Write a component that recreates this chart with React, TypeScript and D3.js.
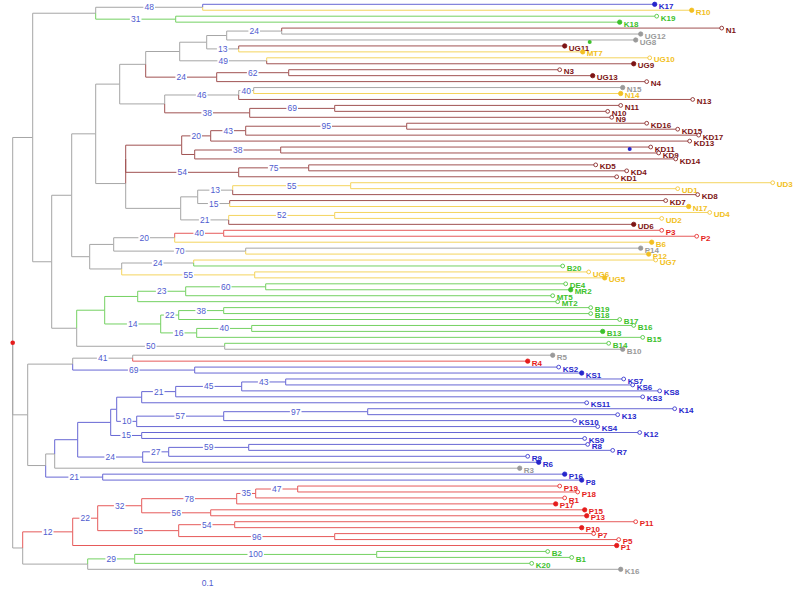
import React, { useMemo } from "react";
import * as d3 from "d3";

const WIDTH = 793;
const HEIGHT = 596;

// ---- Tree data (Newick pieces). Internal labels: "support#edgeColor"; lengths in substitutions/site ----
const cladeK = "((K17:0.452,R10:0.489)48#g:0.107,(K19:0.481,K18:0.444)31#n:0.080)#g";
const cladeUG = "((((N1:0.440,UG12:0.359)24#g:0.055,UG8:0.409)#g:0.020,(UG11:0.326,MT7:0.344)13#g:0.032)#g:0.027,(UG10:0.383,UG9:0.367)49#g:0.087)#g";
const cladeN3 = "((N3:0.271,UG13:0.304)62#w:0.072,N4:0.430)24#w";
const cladeN = "(((N15:0.369,N14:0.367)40#g:0.015,N13:0.454)46#g:0.074,((N11:0.286,N10:0.273)69#w:0.085,N9:0.362)38#w:0.085)#g";
const cladeKDa = "((((KD16:0.240,KD15:0.271)95#w:0.161,KD17:0.453)43#w:0.035,KD13:0.479)20#w:0.029,((KD11:0.370,KD9:0.378)38#w:0.086,KD14:0.481)#w:0.013)#w";
const cladeKDb = "((KD5:0.287,KD4:0.318)75#w:0.070,KD1:0.378)54#w";
const cladeUD = "((((UD3:0.422,UD1:0.327)55#y:0.118,KD8:0.465)13#g:0.035,(KD7:0.436,N17:0.459)15#g:0.032)#g:0.017,((UD4:0.375,UD2:0.327)52#y:0.106,UD6:0.405)21#g:0.048)#g";
const cladeP = "((((P3:0.438,P2:0.473)40#r:0.049,B6:0.477)20#g:0.061,(P14:0.395,P12:0.403)70#g:0.132)#g:0.024,((UG7:0.462,B20:0.369)24#g:0.072,(UG6:0.334,UG5:0.350)55#y:0.133)#g:0.032)#g";
const cladeB = "(((((DE4:0.300,MR2:0.305)60#n:0.080,MT5:0.367)23#n:0.048,MT2:0.420)#n:0.033,(((B19:0.367,B18:0.367)38#n:0.045,B17:0.441)22#n:0.018,((B16:0.382,B13:0.351)40#n:0.055,B15:0.446)16#n:0.036)14#n:0.056)#n:0.028,(B14:0.384,B10:0.398)50#g:0.148)#g";
const cladeKDall = `((${cladeKDa}:0.056,${cladeKDb}:0.113)#w:0,${cladeUD}:0.055)#g`;
const cladeUpper = `((((${cladeUG}:0.034,${cladeN3}:0.071)#g:0.026,${cladeN}:0.045)#g:0.024,${cladeKDall}:0.030)#g:0.024,${cladeP}:0.018)#g`;
const topClade = `(${cladeK}:0.063,(${cladeUpper}:0.020,${cladeB}:0.025)#g:0.019)#g`;

const cladeKS = "((((((KS7:0.338,KS6:0.347)43#b:0.044,KS8:0.418)45#b:0.066,KS3:0.467)21#b:0.034,KS11:0.445)#b:0.025,(((K14:0.307,K13:0.250)97#b:0.144,KS10:0.351)57#b:0.087,KS4:0.461)10#b:0.020)#b:0.006,(K12:0.498,KS9:0.443)15#b:0.031)#b";
const cladeR = "(((R8:0.339,R7:0.364)59#b:0.080,R9:0.359)27#b:0.026,R6:0.396)24#b";
const midClade = `(((R5:0.420,R4:0.395)41#g:0.060,(KS2:0.364,KS1:0.387)69#b:0.122)#g:0.045,(((${cladeKS}:0.033,${cladeR}:0.065)#b:0.023,R3:0.465)#g:0.009,(P16:0.462,P8:0.479)21#b:0.057)#g:0.018)#g`;

const cladePa = "((((P19:0.262,P18:0.280)47#r:0.042,R1:0.309)35#r:0.019,P17:0.319)78#r:0.095,(P15:0.374,P13:0.376)56#r:0.069)32#r";
const cladePb = "((P11:0.401,P10:0.347)54#r:0.056,(P7:0.259,P5:0.284)96#r:0.156)55#r";
const bottomClade = `(((${cladePa}:0.044,${cladePb}:0.081)22#r:0.025,P1:0.544)12#r:0.050,(((B2:0.171,B1:0.195)100#n:0.242,K20:0.397)29#n:0.047,K16:0.533)#g:0.065)#g`;

const newick = `(${topClade}:0.020,${midClade}:0.015,${bottomClade}:0.010);`;

// ---- Leaf groups ----
const blueLeaves = ["K17", "KS2", "KS1", "KS7", "KS6", "KS8", "KS3", "KS11", "K14", "K13", "KS10", "KS4", "K12", "KS9", "R8", "R7", "R9", "R6", "P16", "P8"];
const yellowLeaves = ["R10", "MT7", "UG10", "N14", "UD3", "UD1", "N17", "UD4", "UD2", "B6", "P12", "UG7", "UG6", "UG5"];
const greenLeaves = ["K19", "K18", "B20", "DE4", "MR2", "MT5", "MT2", "B19", "B18", "B17", "B16", "B13", "B15", "B14", "B2", "B1", "K20"];
const brownLeaves = ["N1", "UG11", "UG9", "N3", "UG13", "N4", "N13", "N11", "N10", "N9", "KD16", "KD15", "KD17", "KD13", "KD11", "KD9", "KD14", "KD5", "KD4", "KD1", "KD8", "KD7", "UD6"];
const redLeaves = ["P3", "P2", "R4", "P19", "P18", "R1", "P17", "P15", "P13", "P11", "P10", "P7", "P5", "P1"];
const greyLeaves = ["UG12", "UG8", "N15", "P14", "B10", "R5", "R3", "K16"];
const filledLeaves = ["K17", "R10", "K18", "UG12", "UG8", "UG11", "MT7", "UG9", "UG13", "N15", "N14", "N17", "UD6", "B6", "P14", "P12", "UG5", "MR2", "B13", "B10", "R5", "R4", "KS1", "R6", "R3", "P16", "P8", "P17", "P15", "P13", "P10", "P1", "K16"];

// extra unlabeled markers: [distance from root, leaf-slot position, color code]
const strayMarkers: [number, number, string][] = [
  [0.577, 6.35, "n"],
  [0.617, 24.35, "b"],
];

const lineColor: Record<string, string> = {
  g: "#a6a6a6", b: "#6767d4", y: "#f4d45e", n: "#74d162", r: "#e65a5a", w: "#a05252",
};
const textColor: Record<string, string> = {
  g: "#9a9a9a", b: "#2626cc", y: "#f2bf22", n: "#3cc12c", r: "#e51c1c", w: "#7d1414",
};
const supportColor = "#4f5ccf";

const leafCode: Record<string, string> = {};
blueLeaves.forEach((n) => (leafCode[n] = "b"));
yellowLeaves.forEach((n) => (leafCode[n] = "y"));
greenLeaves.forEach((n) => (leafCode[n] = "n"));
brownLeaves.forEach((n) => (leafCode[n] = "w"));
redLeaves.forEach((n) => (leafCode[n] = "r"));
greyLeaves.forEach((n) => (leafCode[n] = "g"));

type TNode = { name: string; support: string; color: string; length: number; children: TNode[] };

function parseNewick(src: string): TNode {
  const s = src.replace(/\s+/g, "");
  let i = 0;
  function parseNode(): TNode {
    const node: TNode = { name: "", support: "", color: "g", length: 0, children: [] };
    if (s[i] === "(") {
      i++;
      node.children.push(parseNode());
      while (s[i] === ",") {
        i++;
        node.children.push(parseNode());
      }
      i++; // ')'
    }
    let label = "";
    while (i < s.length && !":,);".includes(s[i])) label += s[i++];
    if (s[i] === ":") {
      i++;
      let num = "";
      while (i < s.length && !",);".includes(s[i])) num += s[i++];
      node.length = parseFloat(num);
    }
    if (node.children.length) {
      const [sup, col] = label.split("#");
      node.support = sup || "";
      node.color = col || "g";
    } else {
      node.name = label;
      node.color = leafCode[label] || "g";
    }
    return node;
  }
  return parseNode();
}

export default function App() {
  const layout = useMemo(() => {
    const tree = parseNewick(newick);
    const root = d3.hierarchy<TNode>(tree, (d) => (d.children.length ? d.children : null));
    const dist = new Map<any, number>();
    root.eachBefore((n) => {
      dist.set(n, n.parent ? (dist.get(n.parent) as number) + n.data.length : 0);
    });
    const leaves = root.leaves();
    const yScale = d3.scaleLinear().domain([0, leaves.length - 1]).range([4.3, 569.3]);
    const xScale = d3.scaleLinear().domain([0, 0.78]).range([12.7, 792.7]);
    const pos = new Map<any, { x: number; y: number }>();
    leaves.forEach((l, k) => pos.set(l, { x: xScale(dist.get(l) as number), y: yScale(k) }));
    root.eachAfter((n) => {
      if (n.children) {
        const first = pos.get(n.children[0])!;
        const last = pos.get(n.children[n.children.length - 1])!;
        pos.set(n, { x: xScale(dist.get(n) as number), y: (first.y + last.y) / 2 });
      }
    });
    return { root, leaves, pos, xScale, yScale };
  }, []);

  const { root, leaves, pos, xScale, yScale } = layout;
  const nodes = root.descendants().filter((n) => n.parent);
  const rootPos = pos.get(root)!;

  return (
    <svg
      width={WIDTH}
      height={HEIGHT}
      style={{ position: "absolute", left: 0, top: 0, background: "#fff" }}
      fontFamily="'Liberation Sans', Arial, sans-serif"
    >
      <rect width={WIDTH} height={HEIGHT} fill="#fff" />
      {nodes.map((n, k) => {
        const p = pos.get(n.parent)!;
        const c = pos.get(n)!;
        return (
          <path
            key={"e" + k}
            d={`M${p.x},${p.y}V${c.y}H${c.x}`}
            fill="none"
            stroke={lineColor[n.data.color]}
            strokeWidth={1}
          />
        );
      })}
      {nodes
        .filter((n) => n.children && n.data.support)
        .map((n, k) => {
          const p = pos.get(n.parent)!;
          const c = pos.get(n)!;
          const mx = (p.x + c.x) / 2;
          const w = n.data.support.length * 4.8 + 2;
          return (
            <g key={"s" + k}>
              <rect x={mx - w / 2} y={c.y - 3.5} width={w} height={7} fill="#fff" />
              <text
                x={mx}
                y={c.y}
                dy="0.35em"
                textAnchor="middle"
                fontSize={8.5}
                fill={supportColor}
              >
                {n.data.support}
              </text>
            </g>
          );
        })}
      {leaves.map((l, k) => {
        const c = pos.get(l)!;
        const code = l.data.color;
        const filled = filledLeaves.includes(l.data.name);
        return (
          <g key={"l" + k}>
            <circle
              cx={c.x}
              cy={c.y}
              r={filled ? 2.2 : 1.9}
              fill={filled ? textColor[code] : "#fff"}
              stroke={textColor[code]}
              strokeWidth={0.8}
            />
            <text
              x={c.x + 4}
              y={c.y + 1.8}
              dy="0.35em"
              fontSize={8}
              fontWeight="bold"
              fill={textColor[code]}
            >
              {l.data.name}
            </text>
          </g>
        );
      })}
      {strayMarkers.map(([d, slot, code], k) => (
        <circle key={"m" + k} cx={xScale(d)} cy={yScale(slot)} r={2} fill={textColor[code]} />
      ))}
      <circle cx={rootPos.x} cy={rootPos.y} r={2.3} fill="#e51c1c" />
      <text x={xScale(0.195)} y={583} dy="0.35em" textAnchor="middle" fontSize={8.5} fill={supportColor}>
        0.1
      </text>
    </svg>
  );
}
